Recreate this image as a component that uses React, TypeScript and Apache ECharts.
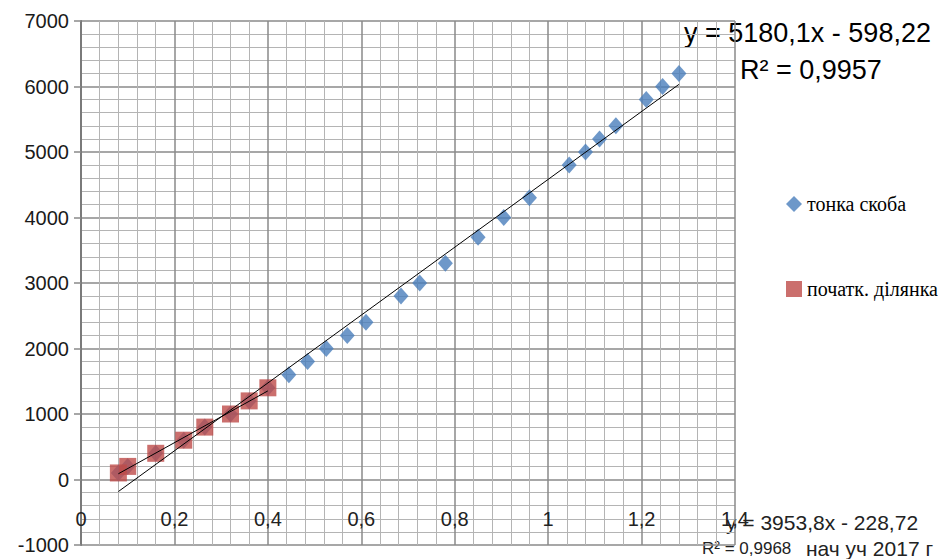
import React, { useEffect, useRef } from "react";
import * as echarts from "echarts";

// Data
const thinX = [0.08, 0.1, 0.16, 0.22, 0.265, 0.32, 0.36, 0.4, 0.445, 0.485, 0.525, 0.57, 0.61, 0.685, 0.725, 0.78, 0.85, 0.905, 0.96, 1.045, 1.08, 1.11, 1.145, 1.21, 1.245, 1.28];
const thinY = [100, 200, 400, 600, 800, 1000, 1200, 1400, 1600, 1800, 2000, 2200, 2400, 2800, 3000, 3300, 3700, 4000, 4300, 4800, 5000, 5200, 5400, 5800, 6000, 6200];
const initX = [0.08, 0.1, 0.16, 0.22, 0.265, 0.32, 0.36, 0.4];
const initY = [100, 200, 400, 600, 800, 1000, 1200, 1400];
const trendThin = [5180.1, -598.22];
const trendInit = [3953.8, -228.72];
const seriesNames = ["тонка скоба", "початк. ділянка"];
const eqThin = ["y = 5180,1x - 598,22", "R² = 0,9957"];
const eqInit = ["y = 3953,8x - 228,72", "R² = 0,9968", "нач уч 2017 г"];

function trend(xs: number[], c: number[]) {
  const lo = Math.min(...xs);
  const hi = Math.max(...xs);
  return [
    [lo, c[0] * lo + c[1]],
    [hi, c[0] * hi + c[1]],
  ];
}

const fmt = (v: number) => String(Math.round(v * 10) / 10).replace(".", ",");

export default function App() {
  const ref = useRef<HTMLDivElement>(null);
  useEffect(() => {
    if (!ref.current) return;
    const chart = echarts.init(ref.current, null, { renderer: "svg" });
    const sans = '"Liberation Sans", Arial, sans-serif';
    chart.setOption({
      animation: false,
      backgroundColor: "#fff",
      grid: { left: 81, right: 203, top: 21, bottom: 14, containLabel: false },
      xAxis: {
        type: "value",
        min: 0,
        max: 1.4,
        interval: 0.2,
        axisLine: { show: false },
        axisTick: { show: false },
        axisLabel: {
          inside: true,
          margin: 16,
          color: "#222",
          fontSize: 20,
          fontFamily: sans,
          formatter: fmt,
        },
        splitLine: { show: true, lineStyle: { color: "#8a8a8a", width: 1.5 } },
        minorTick: { show: false, splitNumber: 5 },
        minorSplitLine: { show: true, lineStyle: { color: "#b4b4b4", width: 1 } },
      },
      yAxis: {
        type: "value",
        min: -1000,
        max: 7000,
        interval: 1000,
        axisLine: { show: true, lineStyle: { color: "#7a7a7a", width: 2 } },
        axisTick: { show: true, length: 7, lineStyle: { color: "#8a8a8a", width: 1.5 } },
        axisLabel: { color: "#1a1a1a", fontSize: 20, fontFamily: sans, margin: 12, formatter: (v: number) => String(v) },
        splitLine: { show: true, lineStyle: { color: "#8a8a8a", width: 1.5 } },
        minorTick: { show: false, splitNumber: 5 },
        minorSplitLine: { show: true, lineStyle: { color: "#b4b4b4", width: 1 } },
      },
      legend: {
        orient: "vertical",
        left: 781,
        top: 189,
        itemGap: 65,
        itemWidth: 16,
        itemHeight: 16,
        textStyle: { fontFamily: '"Liberation Serif", "Times New Roman", serif', fontSize: 20, color: "#000" },
        data: seriesNames,
      },
      series: [
        {
          name: seriesNames[0],
          type: "scatter",
          symbol: "diamond",
          symbolSize: [15, 17],
          itemStyle: { color: "#4a7ebb" },
          data: thinX.map((x, i) => [x, thinY[i]]),
          z: 2,
        },
        {
          name: seriesNames[1],
          type: "scatter",
          symbol: "rect",
          symbolSize: 17,
          itemStyle: { color: "#be4b48" },
          data: initX.map((x, i) => [x, initY[i]]),
          z: 3,
        },
        {
          type: "line",
          data: trend(thinX, trendThin),
          symbol: "none",
          lineStyle: { color: "#000", width: 1 },
          z: 4,
          silent: true,
        },
        {
          type: "line",
          data: trend(initX, trendInit),
          symbol: "none",
          lineStyle: { color: "#000", width: 1 },
          z: 4,
          silent: true,
        },
      ],
      graphic: [
        { type: "text", x: 684, y: 33, style: { text: eqThin[0], font: `27px ${sans}`, fill: "#000", verticalAlign: "middle" } },
        { type: "text", x: 740, y: 70, style: { text: eqThin[1], font: `27px ${sans}`, fill: "#000", verticalAlign: "middle" } },
        { type: "text", x: 726, y: 522, style: { text: eqInit[0], font: `21px ${sans}`, fill: "#222", verticalAlign: "middle" } },
        { type: "text", x: 702, y: 548, style: { text: eqInit[1], font: `17px ${sans}`, fill: "#222", verticalAlign: "middle" } },
        { type: "text", x: 806, y: 548, style: { text: eqInit[2], font: `21px ${sans}`, fill: "#222", verticalAlign: "middle" } },
      ],
    });
    return () => chart.dispose();
  }, []);
  return <div ref={ref} style={{ width: 938, height: 559, position: "absolute", left: 0, top: 0 }} />;
}
